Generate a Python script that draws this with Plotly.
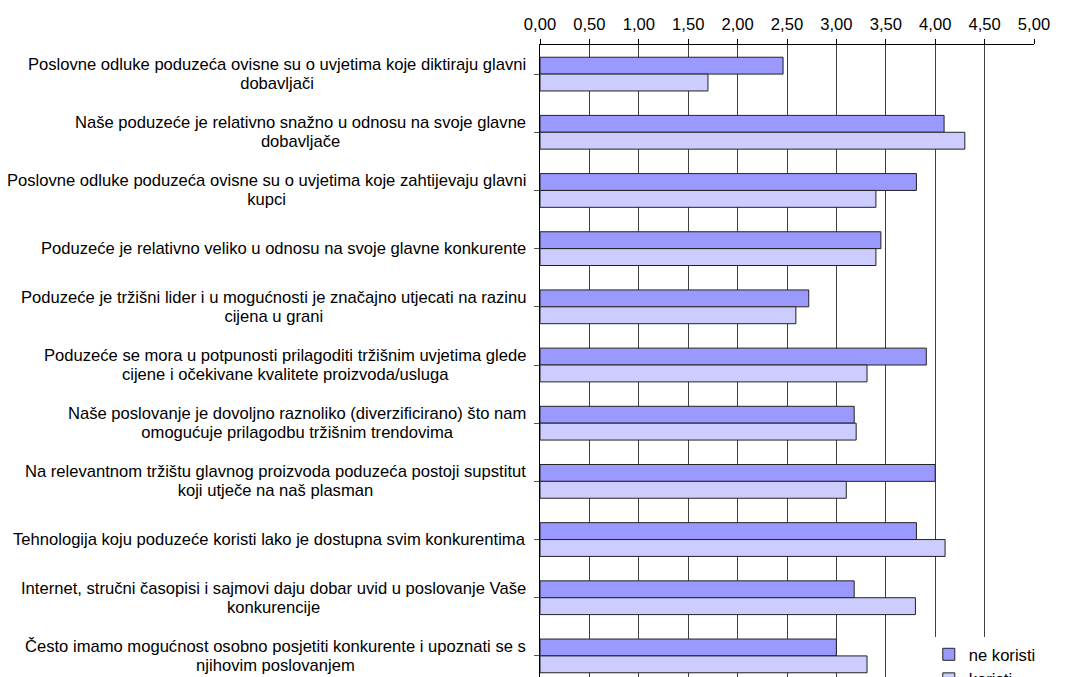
import plotly.graph_objects as go

categories = [
    "Poslovne odluke poduzeća ovisne su o uvjetima koje diktiraju glavni<br>dobavljači",
    "Naše poduzeće je relativno snažno u odnosu na svoje glavne<br>dobavljače",
    "Poslovne odluke poduzeća ovisne su o uvjetima koje zahtijevaju glavni<br>kupci",
    "Poduzeće je relativno veliko u odnosu na svoje glavne konkurente",
    "Poduzeće je tržišni lider i u mogućnosti je značajno utjecati na razinu<br>cijena u grani",
    "Poduzeće se mora u potpunosti prilagoditi tržišnim uvjetima glede<br>cijene i očekivane kvalitete proizvoda/usluga",
    "Naše poslovanje je dovoljno raznoliko (diverzificirano) što nam<br>omogućuje prilagodbu tržišnim trendovima",
    "Na relevantnom tržištu glavnog proizvoda poduzeća postoji supstitut<br>koji utječe na naš plasman",
    "Tehnologija koju poduzeće koristi lako je dostupna svim konkurentima",
    "Internet, stručni časopisi i sajmovi daju dobar uvid u poslovanje Vaše<br>konkurencije",
    "Često imamo mogućnost osobno posjetiti konkurente i upoznati se s<br>njihovim poslovanjem",
]

ne_koristi = [2.46, 4.09, 3.81, 3.45, 2.72, 3.91, 3.18, 4.00, 3.81, 3.18, 3.00]
koristi = [1.70, 4.30, 3.40, 3.40, 2.59, 3.31, 3.20, 3.10, 4.10, 3.80, 3.31]

series_names = ["ne koristi", "koristi"]
series_colors = ["#9999FF", "#CCCCFF"]

idx = list(range(len(categories)))
FONT = "Arial, 'Liberation Sans', sans-serif"
FS = 16.6
LINE_FS = 14.6  # controls line spacing (1.3em) of the wrapped labels

fig = go.Figure()
for name, vals, col in zip(series_names, [ne_koristi, koristi], series_colors):
    fig.add_trace(go.Bar(
        y=idx, x=vals, name=name, orientation="h",
        marker=dict(color=col, line=dict(color="#222222", width=1)),
    ))

for i, lab in enumerate(categories):
    txt = "<br>".join(
        f"<span style='font-size:{FS}px'>{ln}</span>" for ln in lab.split("<br>")
    )
    fig.add_annotation(
        x=-0.0239, xref="paper", y=i, yref="y",
        text=txt, showarrow=False, xanchor="right", yanchor="middle",
        align="center", font=dict(family=FONT, size=LINE_FS, color="#000000"),
    )

fig.update_layout(
    width=1058, height=700,
    margin=dict(l=532, r=32, t=37, b=23, pad=0, autoexpand=False),
    paper_bgcolor="white", plot_bgcolor="white",
    barmode="group", bargap=0.42, bargroupgap=0.0,
    separators=",.",
    font=dict(family=FONT, size=FS, color="#000000"),
    showlegend=True,
    legend=dict(
        x=0.787, xanchor="left",
        y=0.075, yanchor="top",
        bgcolor="white", borderwidth=0,
        font=dict(family=FONT, size=FS, color="#000000"),
        tracegroupgap=0,
    ),
    xaxis=dict(
        side="top", range=[0, 5], dtick=0.5, tick0=0, tickformat=".2f",
        showgrid=True, gridcolor="#404040", gridwidth=1,
        showline=True, linecolor="#000000", linewidth=1,
        ticks="outside", ticklen=5, tickcolor="#000000", ticklabelstandoff=2,
        zeroline=False, fixedrange=True, automargin=False,
    ),
    yaxis=dict(
        range=[10.5, -0.5],
        tickmode="array", tickvals=idx, ticktext=[""] * len(idx),
        showticklabels=False, showgrid=False, zeroline=False,
        showline=True, linecolor="#000000", linewidth=1,
        ticks="outside", ticklen=5, tickcolor="#555555", tickson="boundaries",
        fixedrange=True, automargin=False,
    ),
)

fig.write_html(
    "out.html",
    post_script="document.documentElement.style.overflow='hidden';document.body.style.overflow='hidden';",
)
